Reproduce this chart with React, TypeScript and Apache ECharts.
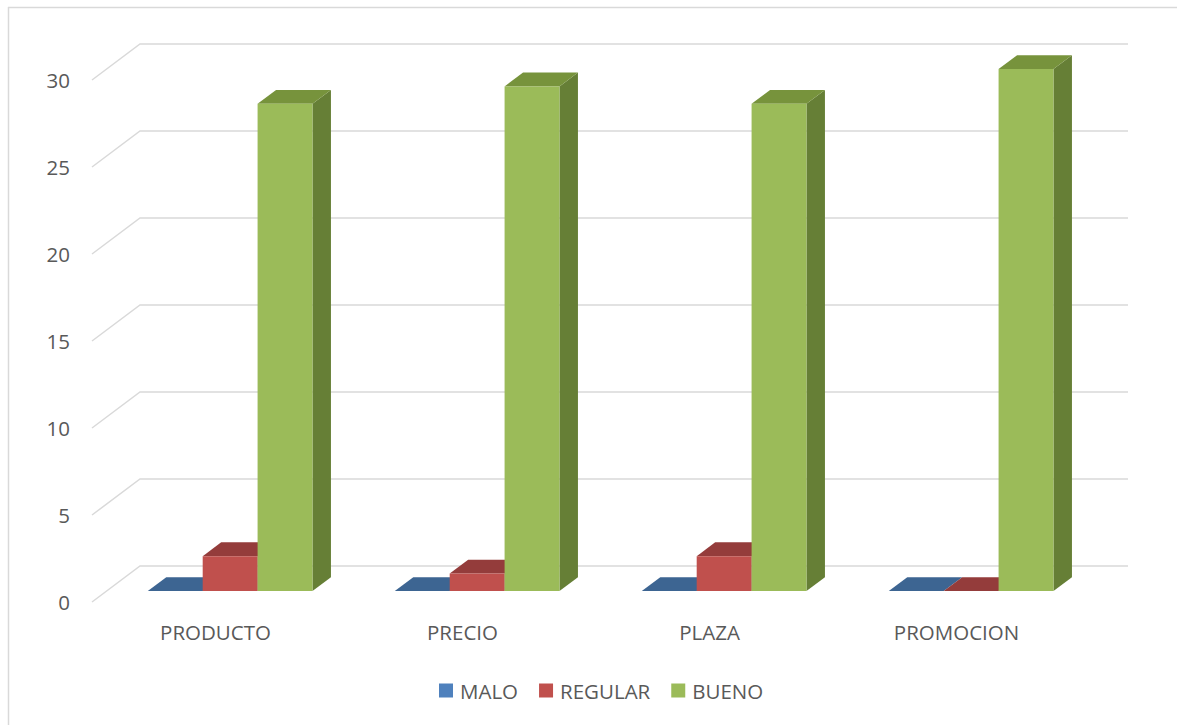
import React, { useEffect, useRef } from "react";
import * as echarts from "echarts";

const categories = ["PRODUCTO", "PRECIO", "PLAZA", "PROMOCION"];
const seriesNames = ["MALO", "REGULAR", "BUENO"];
const malo = [0, 0, 0, 0];
const regular = [2, 1, 2, 0];
const bueno = [28, 29, 28, 30];
const yTicks = [0, 5, 10, 15, 20, 25, 30];

const frontColors = ["#4f81bd", "#c0504d", "#9bbb59"];
const topColors = ["#3d6592", "#943c3b", "#77933c"];
const sideColors = ["#355683", "#7e3331", "#667f36"];

const FONT = "'Open Sans', sans-serif";
const TEXT = "#595959";
// full depth offset of the back wall
const DX = 48;
const DY = -36;
// bar depth placement (fractions of full depth)
const F0 = 0.305;
const F1 = 0.69;

export default function App() {
  const ref = useRef<HTMLDivElement>(null);
  useEffect(() => {
    if (!ref.current) return;
    const chart = echarts.init(ref.current, null, { renderer: "svg" });
    const values = [malo, regular, bueno];

    const gridRender = (params: any, api: any) => {
      const cs = params.coordSys;
      const v = api.value(0);
      const y = api.coord([0, v])[1];
      const x = cs.x;
      return {
        type: "polyline",
        shape: {
          points: [
            [x, y],
            [x + DX, y + DY],
            [x + cs.width + DX, y + DY],
          ],
        },
        style: { stroke: "#d9d9d9", lineWidth: 1.5, fill: "none" },
        silent: true,
      };
    };

    const makeBarRender = (si: number) => (params: any, api: any) => {
      const idx = api.value(0);
      const v = api.value(1);
      const c0 = api.coord([idx, 0]);
      const c1 = api.coord([idx, v]);
      const band = api.size([1, 0])[0];
      const w = band / 4.5;
      const left = c0[0] - 1.5 * w + si * w;
      const ox = F0 * DX;
      const oy = F0 * DY;
      const dx = (F1 - F0) * DX;
      const dy = (F1 - F0) * DY;
      const x0 = left + ox;
      const x1 = left + w + ox;
      const yb = c0[1] + oy;
      const yt = c1[1] + oy;
      const children: any[] = [];
      if (v > 0) {
        children.push({
          type: "polygon",
          shape: { points: [[x1, yb], [x1 + dx, yb + dy], [x1 + dx, yt + dy], [x1, yt]] },
          style: { fill: sideColors[si] },
        });
      }
      children.push({
        type: "polygon",
        shape: { points: [[x0, yt], [x0 + dx, yt + dy], [x1 + dx, yt + dy], [x1, yt]] },
        style: { fill: topColors[si] },
      });
      if (v > 0) {
        children.push({
          type: "rect",
          shape: { x: x0, y: yt, width: w, height: yb - yt },
          style: { fill: frontColors[si] },
        });
      }
      return { type: "group", children };
    };

    const barSeries = seriesNames.map((name, si) => ({
      type: "custom",
      name,
      renderItem: makeBarRender(si),
      itemStyle: { color: frontColors[si] },
      encode: { x: 0, y: 1 },
      data: values[si].map((v, i) => [i, v]),
      z: 3,
    }));

    chart.setOption({
      animation: false,
      backgroundColor: "#ffffff",
      grid: { left: 92, right: 97, top: 80, bottom: 123 },
      xAxis: {
        type: "category",
        data: categories,
        axisLine: { show: false },
        axisTick: { show: false },
        splitLine: { show: false },
        axisLabel: { color: TEXT, fontSize: 20.5, fontFamily: FONT, margin: 19 },
      },
      yAxis: {
        type: "value",
        min: 0,
        max: 30,
        interval: 5,
        axisLine: { show: false },
        axisTick: { show: false },
        splitLine: { show: false },
        axisLabel: { color: TEXT, fontSize: 20.5, fontFamily: FONT, margin: 22 },
      },
      legend: {
        data: seriesNames,
        icon: "rect",
        itemWidth: 14,
        itemHeight: 14,
        itemGap: 21,
        left: 434,
        top: 675,
        textStyle: { color: TEXT, fontSize: 20.5, fontFamily: FONT, padding: [0, 0, 0, 2] },
      },
      graphic: [
        {
          type: "line",
          shape: { x1: 8.5, y1: 7, x2: 8.5, y2: 725 },
          style: { stroke: "#d9d9d9", lineWidth: 1.5 },
          silent: true,
        },
        {
          type: "line",
          shape: { x1: 8, y1: 7.5, x2: 1177, y2: 7.5 },
          style: { stroke: "#d9d9d9", lineWidth: 1.5 },
          silent: true,
        },
      ],
      series: [
        {
          type: "custom",
          name: "grid",
          renderItem: gridRender,
          encode: { y: 0 },
          data: yTicks.map((t) => [t]),
          z: 1,
          silent: true,
        },
        ...barSeries,
      ],
    });
    return () => chart.dispose();
  }, []);
  return (
    <div
      ref={ref}
      style={{ position: "absolute", left: 0, top: 0, width: 1177, height: 725 }}
    />
  );
}
